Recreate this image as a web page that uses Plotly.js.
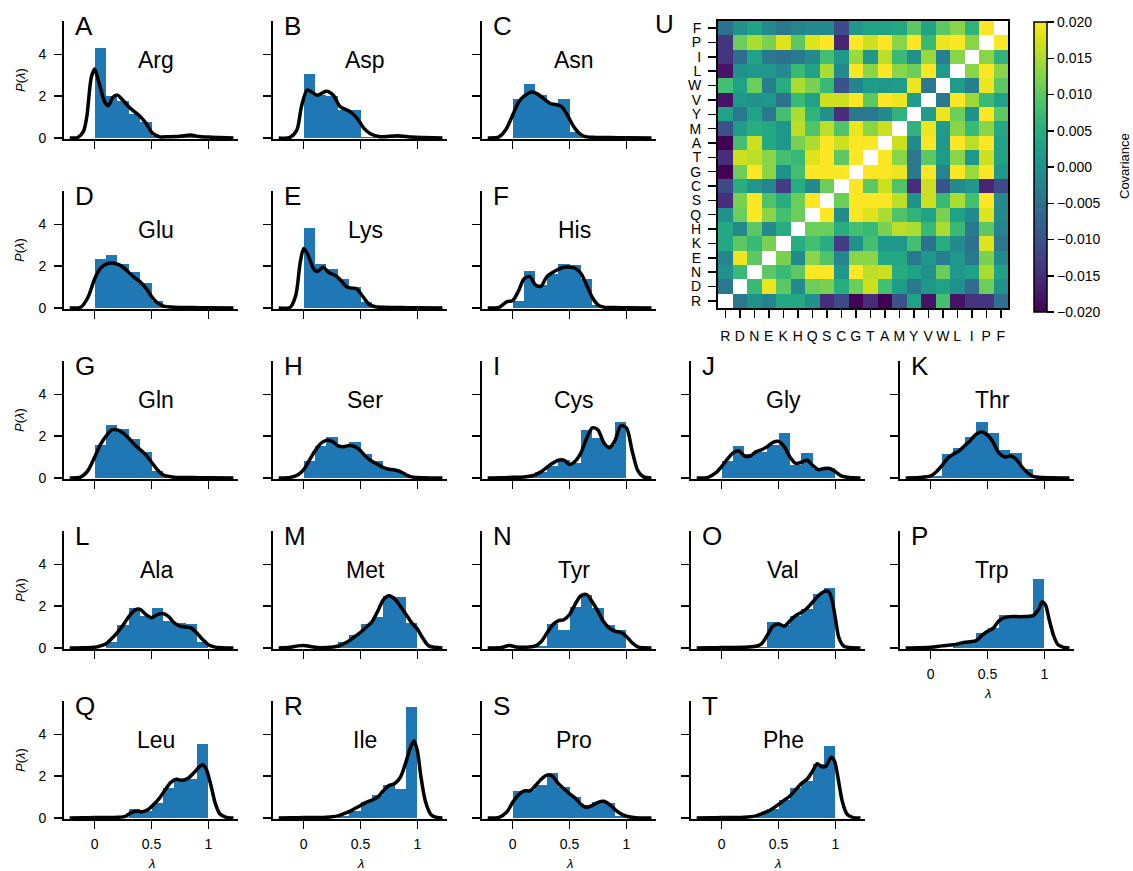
<!DOCTYPE html>
<html><head><meta charset="utf-8">
<script src="https://cdn.plot.ly/plotly-3.0.1.min.js"></script>
<style>html,body{margin:0;padding:0;background:#fff}</style>
</head><body><div id="chart" style="width:1133px;height:871px"></div>
<script>
// ---------- data ----------
const residues = ['Arg','Asp','Asn','Glu','Lys','His','Gln','Ser','Cys','Gly','Thr','Ala','Met','Tyr','Val','Trp','Leu','Ile','Pro','Phe'];
const panelLetters = ['A','B','C','D','E','F','G','H','I','J','K','L','M','N','O','P','Q','R','S','T'];
const binCenters = [0.05,0.15,0.25,0.35,0.45,0.55,0.65,0.75,0.85,0.95];
const lambdaTicks = [0,0.5,1];
const lambdaTickText = ['0','0.5','1'];
const densityTicks = [0,2,4];

const hist_Arg = [4.3,2.0,1.75,1.15,0.75,0.1,0.05,0.05,0.1,0.05];
const hist_Asp = [3.05,2.05,2.0,1.35,1.35,0.05,0.03,0.1,0.05,0.02];
const hist_Asn = [1.85,2.6,2.05,1.65,1.85,0.3,0.05,0,0,0];
const hist_Glu = [2.35,2.55,2.1,1.7,1.2,0.35,0.05,0,0,0];
const hist_Lys = [3.85,2.1,1.85,1.4,1.0,0.3,0.05,0,0,0];
const hist_His = [0.35,1.75,1.1,1.65,2.1,2.05,1.4,0.15,0,0];
const hist_Gln = [1.6,2.55,2.35,1.85,1.25,0.35,0.05,0,0,0];
const hist_Ser = [0.8,1.55,1.95,1.5,1.7,1.15,0.8,0.45,0.3,0.05];
const hist_Cys = [0,0.05,0.3,0.55,0.85,0.7,2.3,1.9,1.6,2.7];
const hist_Gly = [0.8,1.55,1.15,1.25,1.6,2.15,0.6,1.2,0.45,0.5];
const hist_Thr = [0.1,1.15,1.45,1.95,2.7,2.15,1.35,1.2,0.45,0.05];
const hist_Ala = [0,0.3,1.1,1.9,1.55,1.9,1.3,1.2,1.15,0.3];
const hist_Met = [0,0,0,0.3,0.6,1.15,1.5,2.5,2.45,1.2];
const hist_Tyr = [0,0,0.1,1.15,0.85,1.95,2.55,1.9,1.1,0.85];
const hist_Val = [0,0,0,0.05,1.25,1.1,1.55,1.85,2.6,2.85];
const hist_Trp = [0,0,0.25,0.3,0.7,0.95,1.6,1.55,1.55,3.3];
const hist_Leu = [0,0,0,0.45,0.35,0.7,1.45,1.85,1.85,3.55];
const hist_Ile = [0,0,0,0.1,0.35,0.75,1.1,1.6,1.4,5.3];
const hist_Pro = [1.3,1.35,1.6,2.15,1.5,1.0,0.6,0.75,0.7,0.1];
const hist_Phe = [0,0,0,0.2,0.45,0.85,1.45,1.75,2.6,3.45];

const kdeX_Arg = [-0.22,-0.15,-0.1,-0.07,-0.03,0.0,0.04,0.09,0.12,0.16,0.2,0.24,0.31,0.4,0.45,0.51,0.57,0.65,0.75,0.84,0.92,1.0,1.1,1.22];
const kdeY_Arg = [0,0.02,0.3,1.0,2.9,3.3,2.6,1.7,1.55,1.95,2.05,1.85,1.43,1.03,0.71,0.22,0.06,0.06,0.08,0.14,0.07,0.04,0.02,0];
const kdeX_Asp = [-0.22,-0.12,-0.06,-0.02,0.03,0.07,0.12,0.2,0.26,0.32,0.41,0.47,0.53,0.59,0.67,0.82,0.95,1.05,1.22];
const kdeY_Asp = [0,0.03,0.38,1.5,2.29,2.2,2.05,2.24,2.05,1.5,1.25,0.94,0.46,0.19,0.06,0.11,0.04,0.02,0];
const kdeX_Asn = [-0.22,-0.12,-0.06,0,0.05,0.1,0.17,0.22,0.28,0.33,0.38,0.43,0.48,0.53,0.58,0.63,0.7,0.85,1.0,1.22];
const kdeY_Asn = [0,0.05,0.4,1.1,1.7,2.0,2.2,2.1,1.85,1.65,1.6,1.5,1.1,0.6,0.25,0.08,0.03,0.02,0.01,0];
const kdeX_Glu = [-0.22,-0.12,-0.06,0,0.05,0.1,0.15,0.2,0.25,0.3,0.35,0.4,0.45,0.5,0.55,0.6,0.7,0.85,1.0,1.22];
const kdeY_Glu = [0,0.05,0.5,1.4,1.9,2.1,2.15,2.1,1.95,1.7,1.45,1.25,0.95,0.55,0.25,0.1,0.03,0.02,0.01,0];
const kdeX_Lys = [-0.22,-0.12,-0.07,-0.03,0,0.04,0.09,0.12,0.17,0.22,0.28,0.33,0.38,0.43,0.47,0.52,0.57,0.62,0.7,0.85,1.0,1.22];
const kdeY_Lys = [0,0.03,0.6,2.2,2.85,2.5,1.85,1.75,1.95,1.7,1.55,1.3,1.0,0.95,0.9,0.55,0.2,0.07,0.03,0.02,0.01,0];
const kdeX_His = [-0.22,-0.12,-0.05,0.0,0.05,0.1,0.15,0.2,0.25,0.3,0.35,0.4,0.45,0.5,0.55,0.6,0.65,0.7,0.75,0.8,0.9,1.0,1.22];
const kdeY_His = [0,0.03,0.3,0.35,0.8,1.4,1.5,1.1,1.05,1.5,1.7,1.85,1.95,1.95,1.9,1.65,1.1,0.5,0.15,0.04,0.02,0.01,0];
const kdeX_Gln = [-0.22,-0.12,-0.06,0,0.05,0.1,0.15,0.2,0.25,0.3,0.35,0.4,0.45,0.5,0.55,0.6,0.7,0.85,1.0,1.22];
const kdeY_Gln = [0,0.05,0.35,1.0,1.6,2.0,2.3,2.3,2.15,1.9,1.6,1.35,1.1,0.75,0.4,0.15,0.03,0.02,0.01,0];
const kdeX_Ser = [-0.22,-0.12,-0.05,0,0.05,0.1,0.15,0.2,0.25,0.3,0.35,0.4,0.45,0.5,0.55,0.6,0.65,0.7,0.75,0.8,0.85,0.9,0.95,1.05,1.22];
const kdeY_Ser = [0,0.02,0.15,0.4,0.85,1.3,1.65,1.8,1.75,1.55,1.5,1.55,1.5,1.3,1.0,0.8,0.65,0.5,0.42,0.38,0.3,0.15,0.05,0.01,0];
const kdeX_Cys = [-0.22,-0.1,0,0.1,0.2,0.25,0.3,0.35,0.4,0.45,0.5,0.55,0.6,0.65,0.7,0.75,0.8,0.85,0.9,0.95,1.0,1.05,1.1,1.15,1.22];
const kdeY_Cys = [0,0.01,0.03,0.05,0.15,0.3,0.5,0.7,0.85,0.85,0.65,0.8,1.2,1.9,2.4,2.3,1.7,1.45,1.8,2.5,2.4,1.3,0.35,0.05,0];
const kdeX_Gly = [-0.22,-0.12,-0.05,0,0.05,0.1,0.15,0.2,0.25,0.3,0.35,0.4,0.45,0.5,0.55,0.6,0.65,0.7,0.75,0.8,0.85,0.9,0.95,1.0,1.05,1.12,1.22];
const kdeY_Gly = [0,0.03,0.25,0.55,0.9,1.2,1.3,1.05,1.05,1.25,1.35,1.5,1.7,1.75,1.5,1.0,0.7,0.75,0.85,0.6,0.4,0.45,0.45,0.3,0.1,0.02,0];
const kdeX_Thr = [-0.22,-0.1,0,0.05,0.1,0.15,0.2,0.25,0.3,0.35,0.4,0.45,0.5,0.55,0.6,0.65,0.7,0.75,0.8,0.85,0.9,0.95,1.05,1.22];
const kdeY_Thr = [0,0.02,0.1,0.3,0.6,0.95,1.15,1.3,1.55,1.8,2.1,2.2,2.05,1.7,1.2,1.0,1.05,0.9,0.55,0.25,0.08,0.03,0.01,0];
const kdeX_Ala = [-0.22,-0.1,0,0.05,0.1,0.15,0.2,0.25,0.3,0.35,0.4,0.45,0.5,0.55,0.6,0.65,0.7,0.75,0.8,0.85,0.9,0.95,1.0,1.05,1.12,1.22];
const kdeY_Ala = [0,0.01,0.03,0.1,0.2,0.45,0.75,1.1,1.5,1.8,1.85,1.6,1.45,1.6,1.65,1.5,1.2,1.05,1.0,0.95,0.7,0.4,0.15,0.05,0.01,0];
const kdeX_Met = [-0.22,-0.12,-0.05,0,0.05,0.12,0.2,0.3,0.35,0.4,0.45,0.5,0.55,0.6,0.65,0.7,0.75,0.8,0.85,0.9,0.95,1.0,1.05,1.1,1.22];
const kdeY_Met = [0,0.03,0.1,0.12,0.08,0.02,0.02,0.08,0.2,0.35,0.55,0.75,1.0,1.25,1.75,2.3,2.5,2.35,2.0,1.6,1.2,0.9,0.45,0.1,0];
const kdeX_Tyr = [-0.22,-0.1,-0.03,0.03,0.1,0.2,0.25,0.3,0.35,0.4,0.45,0.5,0.55,0.6,0.65,0.7,0.75,0.8,0.85,0.9,0.95,1.0,1.05,1.1,1.22];
const kdeY_Tyr = [0,0.02,0.12,0.05,0.03,0.1,0.3,0.7,1.1,1.3,1.35,1.6,2.1,2.5,2.55,2.2,1.75,1.25,0.95,0.8,0.75,0.55,0.25,0.05,0];
const kdeX_Val = [-0.22,-0.1,0,0.2,0.3,0.35,0.4,0.45,0.5,0.55,0.6,0.65,0.7,0.75,0.8,0.85,0.9,0.94,0.97,1.0,1.03,1.07,1.12,1.22];
const kdeY_Val = [0,0.01,0.02,0.03,0.08,0.2,0.6,1.05,1.15,1.05,1.3,1.55,1.7,1.9,2.2,2.5,2.7,2.7,2.3,1.4,0.5,0.1,0.02,0];
const kdeX_Trp = [-0.22,-0.1,0,0.1,0.2,0.3,0.35,0.4,0.45,0.5,0.55,0.6,0.65,0.7,0.8,0.9,0.95,0.98,1.01,1.04,1.08,1.12,1.17,1.22];
const kdeY_Trp = [0,0.01,0.03,0.1,0.15,0.27,0.3,0.35,0.6,0.8,0.95,1.3,1.45,1.5,1.5,1.55,1.85,2.2,2.05,1.4,0.6,0.15,0.03,0];
const kdeX_Leu = [-0.22,-0.1,0,0.1,0.2,0.27,0.32,0.36,0.42,0.47,0.52,0.57,0.62,0.67,0.72,0.77,0.82,0.87,0.92,0.95,0.98,1.02,1.06,1.1,1.15,1.22];
const kdeY_Leu = [0,0.01,0.02,0.02,0.03,0.08,0.25,0.32,0.3,0.4,0.65,0.95,1.35,1.7,1.85,1.8,1.9,2.15,2.45,2.55,2.35,1.6,0.7,0.2,0.04,0];
const kdeX_Ile = [-0.22,-0.1,0,0.1,0.2,0.3,0.35,0.4,0.45,0.5,0.55,0.6,0.65,0.7,0.75,0.8,0.85,0.9,0.94,0.97,1.0,1.03,1.07,1.12,1.17,1.22];
const kdeY_Ile = [0,0.01,0.02,0.02,0.03,0.1,0.2,0.3,0.45,0.6,0.75,0.85,1.0,1.3,1.55,1.65,1.95,2.7,3.4,3.7,3.2,2.0,0.8,0.15,0.02,0];
const kdeX_Pro = [-0.22,-0.12,-0.05,0,0.05,0.1,0.15,0.2,0.25,0.3,0.35,0.4,0.45,0.5,0.55,0.6,0.65,0.7,0.75,0.8,0.85,0.9,0.95,1.0,1.08,1.22];
const kdeY_Pro = [0,0.03,0.3,0.75,1.1,1.3,1.3,1.55,1.85,2.05,2.0,1.65,1.4,1.15,0.95,0.65,0.5,0.6,0.75,0.8,0.65,0.4,0.2,0.08,0.01,0];
const kdeX_Phe = [-0.22,-0.1,0,0.1,0.2,0.3,0.35,0.4,0.45,0.5,0.55,0.6,0.65,0.7,0.75,0.8,0.84,0.88,0.92,0.96,0.99,1.02,1.06,1.1,1.15,1.22];
const kdeY_Phe = [0,0.01,0.02,0.02,0.03,0.1,0.2,0.3,0.45,0.65,0.85,1.05,1.35,1.65,1.85,2.25,2.6,2.45,2.5,2.9,2.75,2.0,0.8,0.2,0.03,0];

const aminoCodes = ['R','D','N','E','K','H','Q','S','C','G','T','A','M','Y','V','W','L','I','P','F'];
const cov_R = [null,-0.004,0.0,-0.002,0.004,0.004,0.0,-0.015,-0.011,-0.02,-0.015,-0.02,-0.01,0.003,-0.018,0.008,-0.018,-0.014,-0.014,-0.005];
const cov_D = [-0.004,null,0.007,0.019,0.01,-0.001,0.011,0.012,0.005,0.011,0.017,0.008,0.002,-0.004,0.001,0.003,0.0,-0.006,0.011,0.0];
const cov_N = [0.0,0.007,null,0.01,0.007,0.01,0.02,0.02,0.001,0.02,0.016,0.017,0.005,0.003,0.0,0.011,0.001,0.003,0.015,0.003];
const cov_E = [-0.002,0.019,0.01,null,0.012,-0.001,0.013,0.009,-0.002,0.013,0.013,0.004,0.004,-0.004,0.001,-0.003,0.001,-0.004,0.012,-0.001];
const cov_K = [0.004,0.01,0.007,0.012,null,0.005,0.008,0.005,-0.013,0.0,0.008,0.001,0.001,0.008,-0.005,0.005,-0.001,-0.005,0.018,-0.004];
const cov_H = [0.004,-0.001,0.01,-0.001,0.005,null,0.011,0.011,0.005,0.008,0.007,0.012,0.016,0.015,0.007,0.015,0.007,-0.004,0.01,-0.002];
const cov_Q = [0.0,0.011,0.02,0.013,0.008,0.011,null,0.02,-0.001,0.02,0.018,0.015,0.009,0.006,0.003,0.012,0.003,-0.001,0.018,-0.001];
const cov_S = [-0.015,0.012,0.02,0.009,0.005,0.011,0.02,null,0.011,0.02,0.02,0.02,0.016,0.0,0.017,0.007,0.015,0.008,0.02,-0.001];
const cov_C = [-0.011,0.005,0.001,-0.002,-0.013,0.005,-0.001,0.011,null,0.02,0.01,0.017,0.009,-0.015,0.017,-0.01,-0.001,0.001,-0.016,-0.011];
const cov_G = [-0.02,0.011,0.02,0.013,0.0,0.008,0.02,0.02,0.02,null,0.02,0.02,0.019,-0.004,0.02,-0.002,0.02,0.014,0.02,0.001];
const cov_T = [-0.015,0.017,0.016,0.013,0.008,0.007,0.018,0.02,0.01,0.02,null,0.02,0.013,-0.004,0.01,0.002,0.013,0.001,0.017,0.003];
const cov_A = [-0.02,0.008,0.017,0.004,0.001,0.012,0.015,0.02,0.017,0.02,0.02,null,0.017,-0.001,0.02,0.001,0.02,0.016,0.02,0.003];
const cov_M = [-0.01,0.002,0.005,0.004,0.001,0.016,0.009,0.016,0.009,0.019,0.013,0.017,null,0.006,0.019,0.002,0.013,0.007,0.013,0.004];
const cov_Y = [0.003,-0.004,0.003,-0.004,0.008,0.015,0.006,0.0,-0.015,-0.004,-0.004,-0.001,0.006,null,0.002,0.019,0.011,0.0,0.02,0.01];
const cov_V = [-0.018,0.001,0.0,0.001,-0.005,0.007,0.003,0.017,0.017,0.02,0.01,0.02,0.019,0.002,null,-0.004,0.02,0.014,0.007,0.003];
const cov_W = [0.008,0.003,0.011,-0.003,0.005,0.015,0.012,0.007,-0.01,-0.002,0.002,0.001,0.002,0.019,-0.004,null,0.002,-0.003,0.019,0.01];
const cov_L = [-0.018,0.0,0.001,0.001,-0.001,0.007,0.003,0.015,-0.001,0.02,0.013,0.02,0.013,0.011,0.02,0.002,null,0.013,0.02,0.013];
const cov_I = [-0.014,-0.006,0.003,-0.004,-0.005,-0.004,-0.001,0.008,0.001,0.014,0.001,0.016,0.007,0.0,0.014,-0.003,0.013,null,0.013,0.006];
const cov_P = [-0.014,0.011,0.015,0.012,0.018,0.01,0.018,0.02,-0.016,0.02,0.017,0.02,0.013,0.02,0.007,0.019,0.02,0.013,null,0.02];
const cov_F = [-0.005,0.0,0.003,-0.001,-0.004,-0.002,-0.001,-0.001,-0.011,0.001,0.003,0.003,0.004,0.01,0.003,0.01,0.013,0.006,0.02,null];
const colorbarTicks = [-0.02,-0.015,-0.01,-0.005,0,0.005,0.01,0.015,0.02];

// ---------- assemble ----------
const hists = [hist_Arg,hist_Asp,hist_Asn,hist_Glu,hist_Lys,hist_His,hist_Gln,hist_Ser,hist_Cys,hist_Gly,hist_Thr,hist_Ala,hist_Met,hist_Tyr,hist_Val,hist_Trp,hist_Leu,hist_Ile,hist_Pro,hist_Phe];
const kdeXs = [kdeX_Arg,kdeX_Asp,kdeX_Asn,kdeX_Glu,kdeX_Lys,kdeX_His,kdeX_Gln,kdeX_Ser,kdeX_Cys,kdeX_Gly,kdeX_Thr,kdeX_Ala,kdeX_Met,kdeX_Tyr,kdeX_Val,kdeX_Trp,kdeX_Leu,kdeX_Ile,kdeX_Pro,kdeX_Phe];
const kdeYs = [kdeY_Arg,kdeY_Asp,kdeY_Asn,kdeY_Glu,kdeY_Lys,kdeY_His,kdeY_Gln,kdeY_Ser,kdeY_Cys,kdeY_Gly,kdeY_Thr,kdeY_Ala,kdeY_Met,kdeY_Tyr,kdeY_Val,kdeY_Trp,kdeY_Leu,kdeY_Ile,kdeY_Pro,kdeY_Phe];
const covMatrix = [cov_R,cov_D,cov_N,cov_E,cov_K,cov_H,cov_Q,cov_S,cov_C,cov_G,cov_T,cov_A,cov_M,cov_Y,cov_V,cov_W,cov_L,cov_I,cov_P,cov_F];

const W = 1133, H = 871;
const px = v => v / W, py = v => 1 - v / H;
const FONT = '"Liberation Sans", Arial, Helvetica, sans-serif';
const traces = [];
const annotations = [];
const layout = {
  width: W, height: H, margin: {l:0, r:0, t:0, b:0},
  paper_bgcolor: 'white', plot_bgcolor: 'white',
  font: {family: FONT, color: 'black', size: 13},
  showlegend: false, bargap: 0, annotations: annotations
};
const axisCommon = {ticks:'outside', ticklen:8, tickwidth:1.5, tickcolor:'black', showline:true,
  linecolor:'black', linewidth:2, showgrid:false, zeroline:false, tickfont:{size:14}, fixedrange:true};

residues.forEach((name, i) => {
  let row, col;
  if (i < 6) { row = Math.floor(i / 3); col = i % 3; }
  else { const j = i - 6; row = 2 + Math.floor(j / 5); col = j % 5; }
  const sfx = i === 0 ? '' : String(i + 1);
  const xa = 'x' + sfx, ya = 'y' + sfx;
  const left = 64 + 209 * col, right = left + 174;
  const top = 21 + 170 * row, bottom = 139 + 170 * row;
  layout['xaxis' + sfx] = Object.assign({}, axisCommon, {
    domain: [px(left), px(right)], anchor: ya, range: [-0.27, 1.26],
    tickvals: lambdaTicks, ticktext: lambdaTickText, showticklabels: i >= 15, ticklabelstandoff: 3
  });
  layout['yaxis' + sfx] = Object.assign({}, axisCommon, {
    domain: [py(bottom), py(top)], anchor: xa, range: [-0.05, 5.6],
    tickvals: densityTicks, showticklabels: col === 0, ticklabelstandoff: 5
  });
  traces.push({type:'bar', x: binCenters, y: hists[i], width: 0.1, xaxis: xa, yaxis: ya,
    marker: {color: '#1f77b4', line: {width: 0}}, hoverinfo: 'skip'});
  traces.push({type:'scatter', mode:'lines', x: kdeXs[i], y: kdeYs[i], xaxis: xa, yaxis: ya,
    line: {color: 'black', width: 3.5, shape: 'spline', smoothing: 0.8}, hoverinfo: 'skip'});
  annotations.push({xref: xa + ' domain', yref: ya + ' domain', x: 0.05, y: 0.96, xanchor: 'left', yanchor: 'middle',
    text: panelLetters[i], showarrow: false, font: {size: 26}});
  annotations.push({xref: xa + ' domain', yref: ya + ' domain', x: 0.53, y: 0.67, xanchor: 'center', yanchor: 'middle',
    text: name, showarrow: false, font: {size: 23}});
  if (col === 0) {
    annotations.push({xref: 'paper', yref: 'paper', x: px(20), y: py((top + bottom) / 2), xanchor: 'center', yanchor: 'middle',
      textangle: -90, text: '<i>P</i>(<i>λ</i>)', showarrow: false, font: {size: 13}});
  }
  if (i >= 15) {
    annotations.push({xref: 'paper', yref: 'paper', x: px((left + right) / 2), y: py(bottom + 44), xanchor: 'center', yanchor: 'middle',
      text: '<i>λ</i>', showarrow: false, font: {size: 13}});
  }
});

// heatmap U
traces.push({type:'heatmap', z: covMatrix, x: aminoCodes, y: aminoCodes, xaxis: 'x21', yaxis: 'y21',
  colorscale: 'Viridis', zmin: -0.02, zmax: 0.02, hoverinfo: 'skip',
  colorbar: {x: px(1034), xanchor: 'left', y: py(22), yanchor: 'top', len: (312 - 22) / H, lenmode: 'fraction',
    thickness: 13, thicknessmode: 'pixels', outlinewidth: 1.5, outlinecolor: 'black',
    ticks: 'outside', ticklen: 7, tickwidth: 1.5, tickcolor: 'black', tickvals: colorbarTicks, tickformat: '.3f',
    tickfont: {size: 14}, xpad: 0, ypad: 0}});
layout.xaxis21 = Object.assign({}, axisCommon, {domain: [px(718), px(1008)], anchor: 'y21', type: 'category',
  mirror: true, tickangle: 0, tickmode: 'array', tickvals: aminoCodes, ticklabelstandoff: 6, tickfont: {size: 14}});
layout.yaxis21 = Object.assign({}, axisCommon, {domain: [py(308), py(21)], anchor: 'x21', type: 'category',
  mirror: true, tickmode: 'array', tickvals: aminoCodes, ticklabelstandoff: 4, tickfont: {size: 14}});
annotations.push({xref: 'paper', yref: 'paper', x: px(653), y: py(24), xanchor: 'left', yanchor: 'middle',
  text: 'U', showarrow: false, font: {size: 26}});
annotations.push({xref: 'paper', yref: 'paper', x: px(1125), y: py(166), xanchor: 'center', yanchor: 'middle',
  textangle: -90, text: 'Covariance', showarrow: false, font: {size: 13}});

Plotly.newPlot('chart', traces, layout, {displayModeBar: false, staticPlot: true});
</script>
</body></html>
